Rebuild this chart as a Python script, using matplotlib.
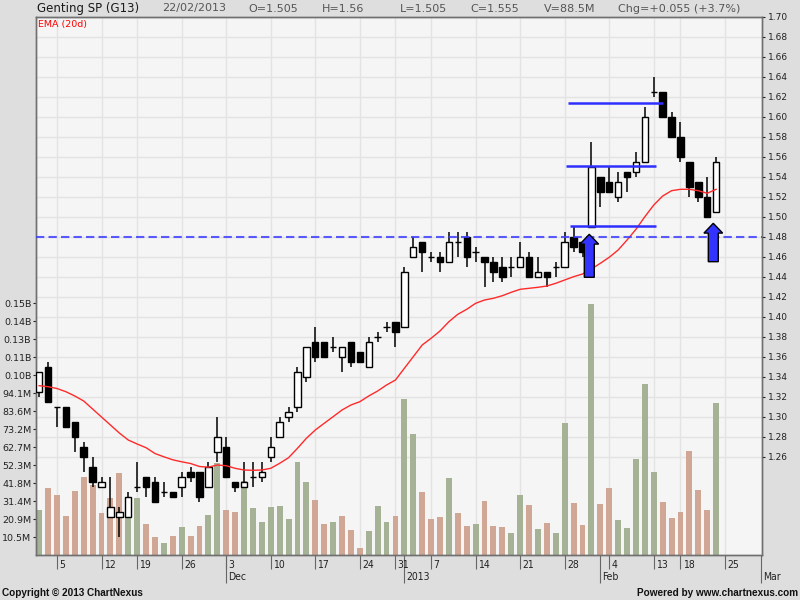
import matplotlib
matplotlib.use('Agg')
import matplotlib.pyplot as plt
import numpy as np
import pandas as pd
from matplotlib.patches import FancyArrow
from matplotlib.transforms import blended_transform_factory

# trading days (SGX), 01/11/2012 .. 01/03/2013, holidays removed
holidays = ['2012-11-13', '2012-12-25', '2013-01-01', '2013-02-11', '2013-02-12']
days = pd.bdate_range('2012-11-01', '2013-03-01')
days = days[~days.isin(pd.to_datetime(holidays))]

opens = [1.325, 1.35, 1.31, 1.31, 1.295, 1.27, 1.25, 1.23, 1.20, 1.20,
         1.20, 1.23, 1.24, 1.235, 1.225, 1.225, 1.23, 1.245, 1.245, 1.23,
         1.265, 1.27, 1.235, 1.23, 1.24, 1.24, 1.26, 1.28, 1.30, 1.31,
         1.34, 1.375, 1.375, 1.37, 1.36, 1.375, 1.365, 1.35, 1.38, 1.39,
         1.395, 1.39, 1.46, 1.475, 1.46, 1.46, 1.455, 1.475, 1.48, 1.465,
         1.46, 1.455, 1.45, 1.45, 1.45, 1.46, 1.44, 1.445, 1.45, 1.45,
         1.48, 1.475, 1.49, 1.54, 1.535, 1.52, 1.545, 1.545, 1.555, 1.625,
         1.625, 1.60, 1.58, 1.555, 1.535, 1.52, 1.505]
highs = [1.345, 1.355, 1.31, 1.31, 1.295, 1.275, 1.26, 1.24, 1.24, 1.21,
         1.225, 1.255, 1.24, 1.24, 1.235, 1.225, 1.245, 1.25, 1.245, 1.255,
         1.30, 1.28, 1.235, 1.255, 1.255, 1.255, 1.28, 1.30, 1.31, 1.35,
         1.37, 1.39, 1.375, 1.38, 1.37, 1.375, 1.365, 1.38, 1.385, 1.395,
         1.395, 1.45, 1.48, 1.475, 1.465, 1.465, 1.485, 1.485, 1.485, 1.47,
         1.46, 1.46, 1.46, 1.46, 1.475, 1.465, 1.46, 1.445, 1.455, 1.485,
         1.49, 1.475, 1.575, 1.54, 1.55, 1.545, 1.545, 1.565, 1.61, 1.64,
         1.625, 1.605, 1.595, 1.555, 1.535, 1.54, 1.56]
lows = [1.32, 1.315, 1.29, 1.29, 1.265, 1.245, 1.23, 1.23, 1.20, 1.18,
        1.20, 1.225, 1.22, 1.215, 1.22, 1.22, 1.22, 1.235, 1.215, 1.23,
        1.255, 1.24, 1.225, 1.23, 1.23, 1.235, 1.255, 1.28, 1.295, 1.305,
        1.335, 1.355, 1.36, 1.365, 1.345, 1.35, 1.355, 1.35, 1.375, 1.385,
        1.37, 1.39, 1.46, 1.445, 1.455, 1.445, 1.455, 1.46, 1.45, 1.455,
        1.43, 1.435, 1.435, 1.44, 1.45, 1.44, 1.44, 1.43, 1.44, 1.45,
        1.465, 1.46, 1.49, 1.51, 1.525, 1.515, 1.525, 1.54, 1.555, 1.62,
        1.60, 1.58, 1.555, 1.52, 1.515, 1.50, 1.505]
closes = [1.345, 1.315, 1.31, 1.29, 1.28, 1.26, 1.235, 1.235, 1.21, 1.205,
          1.22, 1.23, 1.23, 1.215, 1.225, 1.22, 1.24, 1.24, 1.22, 1.25,
          1.28, 1.24, 1.23, 1.235, 1.24, 1.245, 1.27, 1.295, 1.305, 1.345,
          1.37, 1.36, 1.36, 1.37, 1.37, 1.355, 1.355, 1.375, 1.38, 1.39,
          1.385, 1.445, 1.47, 1.465, 1.46, 1.455, 1.475, 1.475, 1.46, 1.465,
          1.455, 1.445, 1.44, 1.45, 1.46, 1.44, 1.445, 1.44, 1.45, 1.475,
          1.47, 1.465, 1.55, 1.525, 1.525, 1.535, 1.54, 1.555, 1.60, 1.625,
          1.60, 1.58, 1.56, 1.53, 1.52, 1.50, 1.555]
# volume in millions
volumes = [25.9, 39.1, 34.6, 22.8, 37.0, 45.1, 40.9, 24.2, 33.3, 47.4,
           32.7, 32.9, 17.8, 10.2, 6.7, 10.8, 16.0, 10.8, 16.6, 23.0,
           53.5, 26.3, 25.2, 43.2, 27.5, 19.4, 28.1, 28.6, 21.1, 54.2,
           42.6, 32.1, 18.2, 19.4, 22.8, 14.7, 4.2, 14.1, 28.6, 19.4,
           22.8, 90.8, 70.5, 36.8, 21.1, 22.3, 44.9, 24.6, 17.0, 18.2,
           31.6, 17.0, 16.4, 13.0, 35.0, 29.2, 15.3, 18.8, 13.0, 76.9,
           30.4, 17.6, 146.0, 29.8, 39.1, 20.5, 15.9, 56.0, 99.6, 48.4,
           31.0, 21.7, 25.2, 60.6, 38.0, 26.3, 88.5]
ema20 = [1.3313, 1.3303, 1.3285, 1.3253, 1.321, 1.316, 1.308, 1.300, 1.292, 1.284,
         1.277, 1.273, 1.2693, 1.2635, 1.2602, 1.2572, 1.2552, 1.2535, 1.2505, 1.2498,
         1.252, 1.2513, 1.2487, 1.247, 1.2467, 1.247, 1.2487, 1.2537, 1.2593, 1.2687,
         1.2787, 1.287, 1.2937, 1.3003, 1.307, 1.312, 1.3153, 1.321, 1.326, 1.332,
         1.337, 1.3487, 1.3603, 1.372, 1.3787, 1.386, 1.3953, 1.4027, 1.4077, 1.4137,
         1.417, 1.4187, 1.4213, 1.4247, 1.4277, 1.4287, 1.4297, 1.431, 1.4337, 1.437,
         1.4403, 1.443, 1.448, 1.4537, 1.4597, 1.467, 1.477, 1.4877, 1.5003, 1.512,
         1.521, 1.5263, 1.5277, 1.5277, 1.5263, 1.5237, 1.5277]

price_ticks = np.round(np.arange(1.26, 1.7001, 0.02), 2)
vol_ticks = 10.46 * np.arange(1, 15)
vol_labels = ['10.5M', '20.9M', '31.4M', '41.8M', '52.3M', '62.7M', '73.2M', '83.6M',
              '94.1M', '0.10B', '0.11B', '0.13B', '0.14B', '0.15B']

# drawn annotations: (price, from index, to index)
hlevels = [(1.614, 59.4, 70.0), (1.551, 59.15, 69.2), (1.491, 59.6, 69.2)]
dash_level = 1.48
# arrows: (index, base price, tip price)
arrows = [(61.76, 1.4397, 1.4827), (75.68, 1.4553, 1.4937)]

header = [('Genting SP (G13)', 37, '#1a1a1a', 8.5), ('22/02/2013', 162, '#555555', 8),
          ('O=1.505', 248, '#555555', 8), ('H=1.56', 322, '#555555', 8),
          ('L=1.505', 400, '#555555', 8), ('C=1.555', 470, '#555555', 8),
          ('V=88.5M', 544, '#555555', 8), ('Chg=+0.055 (+3.7%)', 618, '#555555', 8)]

n = len(closes)
x = np.arange(n)
o = np.array(opens); c = np.array(closes)
prev = np.concatenate([[opens[0]], closes[:-1]])
up = np.round(c - prev, 4) > 0
vol_cols = np.where(up, '#a5b296', '#d0a694')

# axis ticks from the trading calendar
wk = days.isocalendar().week.values
week_idx = [i for i in range(1, len(days)) if wk[i] != wk[i - 1]]
week_lab = [str(days[i].day) for i in week_idx]
month_idx = [i for i in range(1, len(days)) if days[i].month != days[i - 1].month]
month_lab = [days[i].strftime('%Y') if days[i].month == 1 else days[i].strftime('%b') for i in month_idx]

fig = plt.figure(figsize=(8, 6), dpi=100, facecolor='#dedede')
axv = fig.add_axes([35.5 / 800, 45 / 600, 726.5 / 800, 538 / 600], facecolor='#f5f5f5')
ax = axv.twinx()

axv.set_xlim(-0.41, 81.15)
axv.set_ylim(0, 538 / 1.7208)
ax.set_ylim(1.162, 1.70)

# grid below the volume bars
axv.set_axisbelow(True)
axv.xaxis.remove_overlapping_locs = False
axv.set_xticks(week_idx)
axv.set_xticks(month_idx, minor=True)
axv.grid(axis='x', which='major', color='#e3e3e3', lw=1)
gtrans = blended_transform_factory(axv.transAxes, ax.transData)
axv.hlines(price_ticks, 0, 1, transform=gtrans, colors='#e3e3e3', lw=1, zorder=0.5)

axv.bar(x, volumes, width=0.66, color=vol_cols, zorder=2)

# candles
ax.vlines(x, lows, highs, colors='black', lw=1.1, zorder=3)
ax.bar(x, c - o, bottom=o, width=0.72, color=np.where(c >= o, 'white', 'black'),
       edgecolor='black', lw=1.0, zorder=4)
ax.plot(x, ema20, color='#ff2a2a', lw=1.0, zorder=5)

for lvl, x0, x1 in hlevels:
    ax.hlines(lvl, x0, x1, colors='#2f2fff', lw=1.8, zorder=6)
ax.axhline(dash_level, color='#4040ff', alpha=0.85, lw=1.5, ls=(0, (4, 2)), zorder=6)
for xa, y0, y1 in arrows:
    ax.add_patch(FancyArrow(xa, y0, 0, y1 - y0, width=1.12, head_width=2.1, head_length=0.0098,
                            length_includes_head=True, fc='#3333ff', ec='black', lw=1, zorder=7))

ax.text(0.004, 0.986, 'EMA (20d)', transform=ax.transAxes, color='#ff0000', fontsize=6.8,
        ha='left', va='center')

# axes styling
for a in (axv, ax):
    for s in a.spines.values():
        s.set_color('#707070')
        s.set_linewidth(1.0)
ax.set_yticks(price_ticks, [f'{p:.2f}' for p in price_ticks])
ax.tick_params(axis='y', length=2.5, width=0.8, pad=1.5, labelsize=6.5, colors='#222222')
axv.set_yticks(vol_ticks, vol_labels)
axv.tick_params(axis='y', length=2, width=0.8, pad=1, labelsize=6.8, colors='#222222')
axv.tick_params(axis='x', which='major', length=10.3, width=0.8, color='#666666', labelbottom=False)
axv.tick_params(axis='x', which='minor', length=20.4, width=0.8, color='#666666', labelbottom=False)

xtrans = blended_transform_factory(axv.transData, axv.transAxes)
for i, lab in zip(week_idx, week_lab):
    axv.annotate(lab, xy=(i, 0), xycoords=xtrans, xytext=(1.6, -3.4), textcoords='offset points',
                 ha='left', va='top', fontsize=7.5, fontstretch='condensed', color='#222222',
                 annotation_clip=False)
for i, lab in zip(month_idx, month_lab):
    axv.annotate(lab, xy=(i, 0), xycoords=xtrans, xytext=(1.6, -12.6), textcoords='offset points',
                 ha='left', va='top', fontsize=7.5, fontstretch='condensed', color='#222222',
                 annotation_clip=False)

for txt, px, col, fs in header:
    fig.text(px / 800, 1 - 8.5 / 600, txt, color=col, fontsize=fs, ha='left', va='center')

fig.text(2 / 800, 1 - 593 / 600, 'Copyright © 2013 ChartNexus', fontsize=7.2, fontweight='bold',
         family=['Liberation Sans', 'DejaVu Sans'], color='#111111', ha='left', va='center')
fig.text(798 / 800, 1 - 593 / 600, 'Powered by www.chartnexus.com', fontsize=7.2, fontweight='bold',
         family=['Liberation Sans', 'DejaVu Sans'], color='#111111', ha='right', va='center')

fig.savefig('out.png', dpi=100, facecolor=fig.get_facecolor())
